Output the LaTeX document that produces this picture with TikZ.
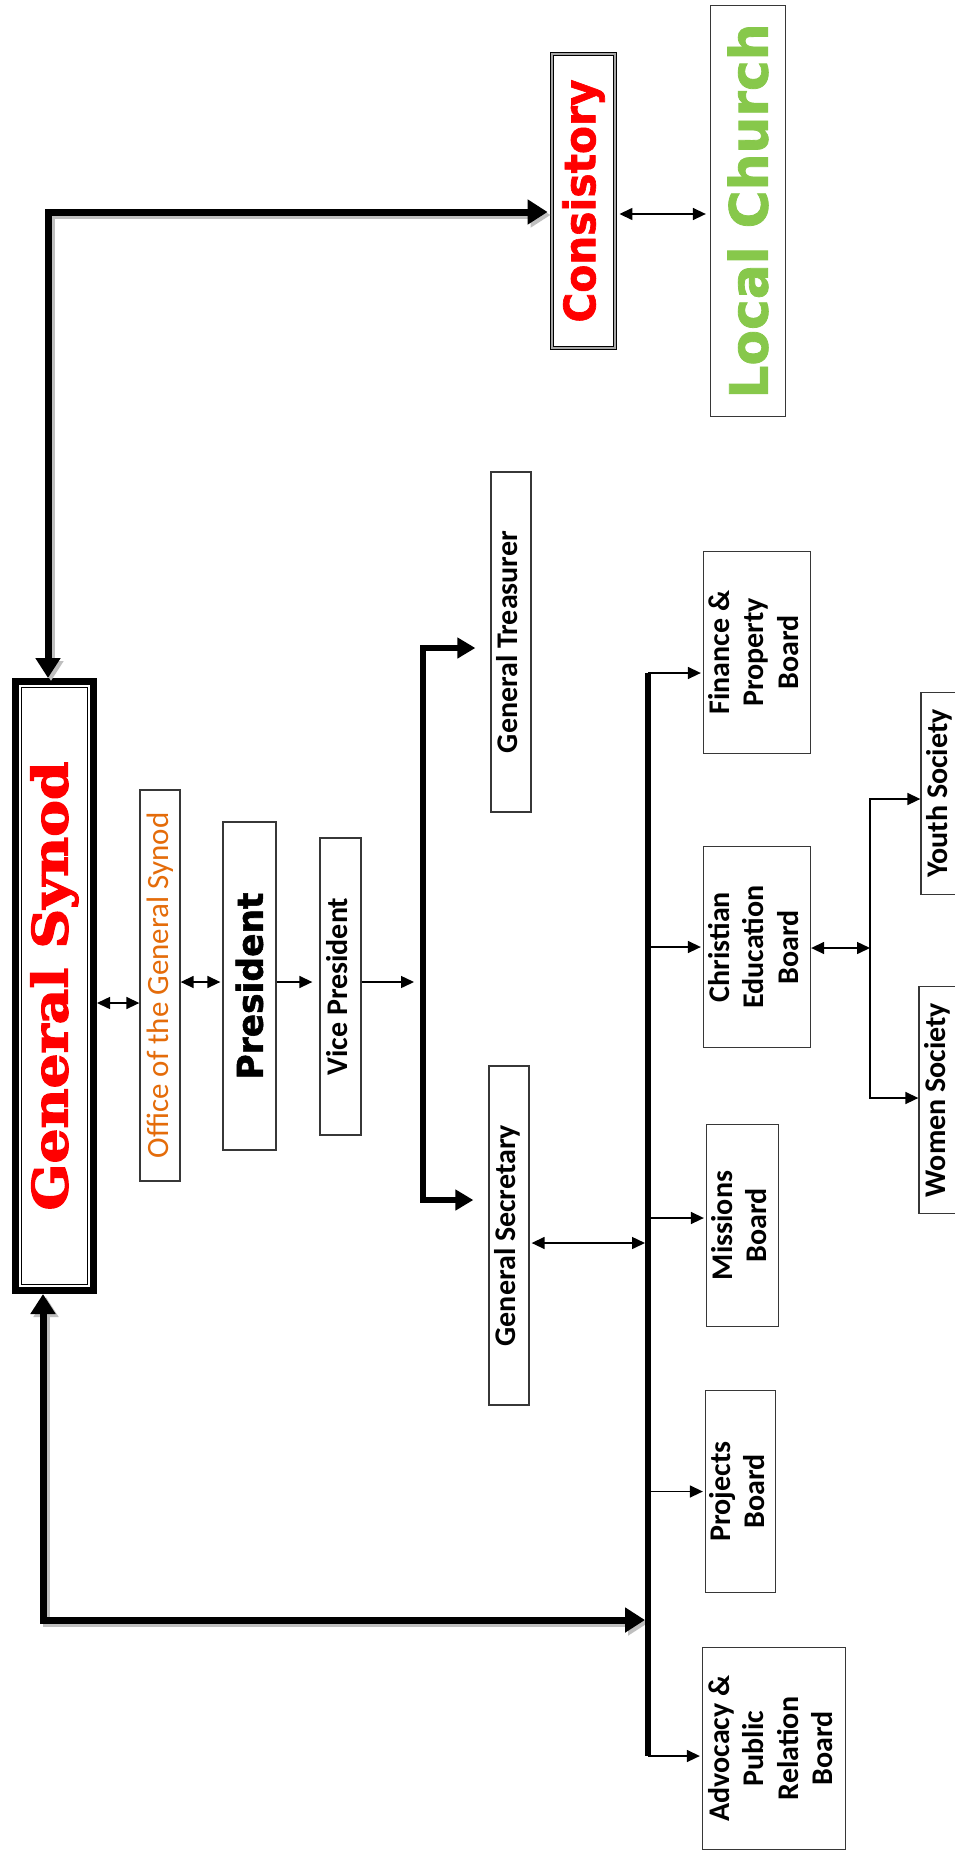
\documentclass[tikz,border=0pt]{standalone}
\usepackage{fontspec}
\usepackage{graphicx}
\setmainfont{Carlito}
\newfontfamily\slabfont{DejaVu Serif}[BoldFeatures={FakeBold=2.5}]
\newfontfamily\heavyfont{DejaVu Sans}[BoldFeatures={FakeBold=1.5}]
\usetikzlibrary{arrows.meta}
\definecolor{synred}{RGB}{255,0,0}
\definecolor{offorange}{RGB}{228,108,10}
\definecolor{lcgreen}{RGB}{135,200,75}
\definecolor{boxline}{RGB}{55,55,55}
\newcommand{\rt}[1]{\rotatebox{90}{\begin{tabular}{@{}c@{}}#1\end{tabular}}}
\newcommand{\rtitle}[3]{\rotatebox{90}{\resizebox{#1}{#2}{#3}}}
\tikzset{
  box/.style={draw=boxline, line width=1.3pt, fill=white, inner sep=0pt,
    font=\fontsize{30}{34.5}\selectfont\bfseries},
  thinone/.style={line width=1.5pt, arrows={-Triangle[length=13pt,width=12pt]}},
  thinboth/.style={line width=1.5pt, arrows={Triangle[length=13pt,width=12pt]-Triangle[length=13pt,width=12pt]}},
  midboth/.style={line width=6pt, arrows={Triangle[length=18pt,width=20pt]-Triangle[length=18pt,width=20pt]}},
  bigboth/.style={line width=7pt, arrows={Triangle[length=20pt,width=24pt]-Triangle[length=20pt,width=24pt]}},
  shadowed/.style={draw=black!25},
  barline/.style={line width=6pt}
}
\begin{document}
\begin{tikzpicture}[x=1pt,y=-1pt]
\fill[white] (0,0) rectangle (955,1852);
\useasboundingbox (0,0) rectangle (955,1852);

% ---- nodes ----
\node[box, line width=7pt, draw=black, minimum width=78pt, minimum height=609pt] (gs) at (54.5,986)
  {\rtitle{449pt}{37pt}{\slabfont\bfseries\color{synred}General Synod}};
\draw[line width=1.2pt] ([shift={(9.5,9.5)}]gs.north west) rectangle ([shift={(-9.5,-9.5)}]gs.south east);

\node[box, minimum width=40pt, minimum height=391pt] (office) at (160,985.5)
  {\rotatebox{90}{\fontsize{31}{36}\selectfont\mdseries\color{offorange}Office of the General Synod}};
\node[box, minimum width=53pt, minimum height=328pt] (pres) at (249.5,986)
  {\rtitle{187pt}{27pt}{\heavyfont\bfseries President}};
\node[box, minimum width=41pt, minimum height=297pt] (vp) at (340.5,986.5) {\rt{Vice President}};
\node[box, minimum width=40pt, minimum height=340pt] (treas) at (511,642) {\rt{General Treasurer}};
\node[box, minimum width=40pt, minimum height=339pt] (sec) at (509,1235.5) {\rt{General Secretary}};

\node[box, draw=black, line width=0.9pt, double=black!35, double distance=1.8pt,
  minimum width=63pt, minimum height=294pt] (cons) at (583.5,201)
  {\rtitle{243pt}{33pt}{\heavyfont\bfseries\color{synred}Consistory}};
\node[box, minimum width=75pt, minimum height=411pt] (lc) at (748,211)
  {\rtitle{375pt}{40pt}{\heavyfont\bfseries\color{lcgreen}Local Church}};

\node[box, minimum width=107pt, minimum height=202pt] (fin) at (757,652.5) {\rt{Finance \&\\Property\\Board}};
\node[box, minimum width=107pt, minimum height=201pt] (ceb) at (757,947) {\rt{Christian\\Education\\Board}};
\node[box, minimum width=72pt, minimum height=202pt] (mis) at (742.5,1225.5) {\rt{Missions\\Board}};
\node[box, minimum width=70pt, minimum height=202pt] (proj) at (740.5,1491.5) {\rt{Projects\\Board}};
\node[box, minimum width=143pt, minimum height=202pt] (adv) at (774,1748.5) {\rt{Advocacy \&\\Public\\Relation\\Board}};
\node[box, minimum width=40pt, minimum height=202pt] (youth) at (941,793.5) {\rt{Youth Society}};
\node[box, minimum width=40pt, minimum height=227pt] (women) at (939,1100) {\rt{Women Society}};

% ---- helper coordinates ----
\coordinate (tl) at (48,212);
\coordinate (t1) at (gs.north -| tl);
\coordinate (t3) at (cons.west |- tl);
\coordinate (bl) at (43,1620);
\coordinate (b1) at (gs.south -| bl);
\coordinate (mbt) at (648,673);
\coordinate (mbb) at (648,1756);
\coordinate (b3) at (bl -| mbt);
\coordinate (r0) at (0,214);
\coordinate (r1) at (0,1003);
\coordinate (r2) at (0,982);
\coordinate (vbt) at (423,648);
\coordinate (vbb) at (423,1200);
\coordinate (ym) at (0,1218);
\coordinate (ys) at (0,1243);
\coordinate (jt) at (870,799);
\coordinate (jb) at (870,1098);
\coordinate (jm) at (870,948);

% ---- big connectors with shadow ----
\draw[bigboth, shadowed, shorten >=4pt]
  ([shift={(3,3)}]t1) -- ([shift={(3,3)}]tl) -- ([shift={(3,3)}]t3);
\draw[bigboth, shorten >=4pt] (t1) -- (tl) -- (t3);
\draw[bigboth, shadowed, shorten >=3pt]
  ([shift={(3,3)}]b1) -- ([shift={(3,3)}]bl) -- ([shift={(3,3)}]b3);
\draw[bigboth, shorten >=3pt] (b1) -- (bl) -- (b3);

% ---- office chain ----
\draw[thinboth] (gs.east |- r1) -- (office.west |- r1);
\draw[thinboth, shorten >=2pt] (office.east |- r2) -- (pres.west |- r2);
\draw[thinone, shorten >=7pt] (pres.east |- r2) -- (vp.west |- r2);
\draw[thinone, shorten >=9pt] (vp.east |- r2) -- (vbt |- r2);

% ---- treasurer / secretary bar ----
\draw[midboth, shorten <=15pt, shorten >=15pt] (treas.west |- vbt) -- (vbt) -- (vbb) -- (sec.west |- vbb);
\draw[thinboth, shorten <=2pt, shorten >=3pt] (sec.east |- ys) -- (mbt |- ys);

% ---- main board bar ----
\draw[barline] (mbt) -- (mbb);
\draw[thinone, shorten >=2pt] (mbt) -- (fin.west |- mbt);
\draw[thinone, shorten >=2pt] (mbt |- ceb.west) -- (ceb.west);
\draw[thinone, shorten >=2pt] (mbt |- ym) -- (mis.west |- ym);
\draw[thinone, shorten >=2pt] (mbt |- proj.west) -- (proj.west);
\draw[thinone, shorten >=2pt] (mbb) -- (adv.west |- mbb);

% ---- Christian Education branches ----
\draw[thinboth] (ceb.east |- jm) -- (jm);
\draw[thinboth] (youth.west |- jt) -- (jt) -- (jb) -- (women.west |- jb);

% ---- consistory / local church ----
\draw[thinboth, shorten <=4pt, shorten >=4pt] (cons.east |- r0) -- (lc.west |- r0);
\end{tikzpicture}
\end{document}
